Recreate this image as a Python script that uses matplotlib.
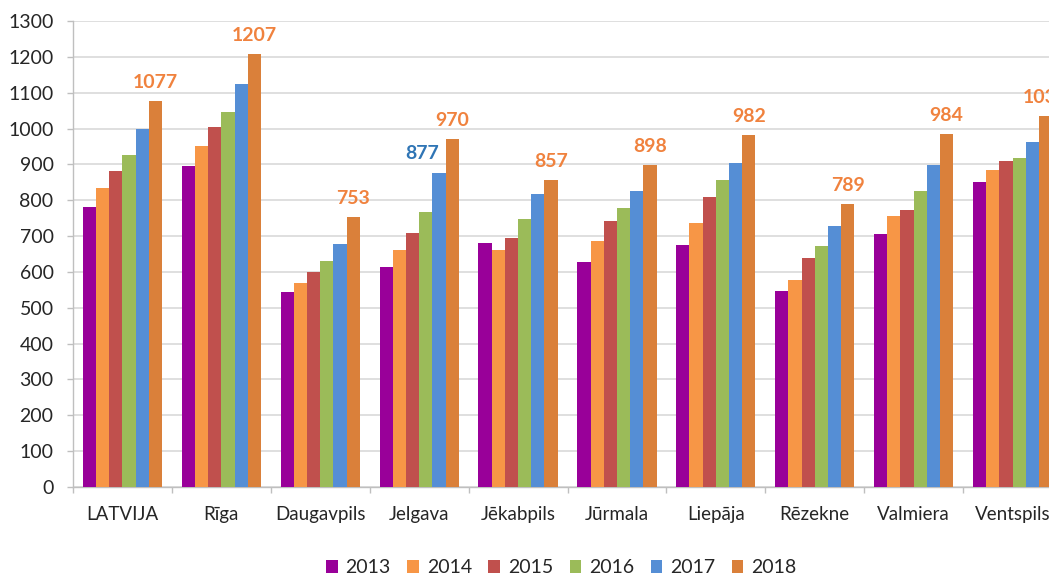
import matplotlib
matplotlib.use("Agg")
import matplotlib.pyplot as plt
from matplotlib.patches import Patch
import numpy as np

plt.rcParams['font.family'] = ['Lato', 'DejaVu Sans']

# dati
pilsetas = ['LATVIJA', 'Rīga', 'Daugavpils', 'Jelgava', 'Jēkabpils',
            'Jūrmala', 'Liepāja', 'Rēzekne', 'Valmiera', 'Ventspils']
gadi = ['2013', '2014', '2015', '2016', '2017', '2018']
v2013 = [782, 895, 543, 614, 680, 628, 675, 548, 705, 850]
v2014 = [833, 951, 570, 660, 660, 687, 736, 577, 755, 885]
v2015 = [882, 1003, 601, 708, 695, 741, 810, 639, 774, 910]
v2016 = [926, 1047, 631, 766, 747, 779, 856, 671, 826, 917]
v2017 = [999, 1123, 678, 877, 817, 826, 905, 727, 898, 962]
v2018 = [1077, 1207, 753, 970, 857, 898, 982, 789, 984, 1034]
serijas = [v2013, v2014, v2015, v2016, v2017, v2018]
krasas = ['#990099', '#F79646', '#C0504D', '#9BBB59', '#558ED5', '#DA803A']

fig = plt.figure(figsize=(10.49, 5.77), dpi=100)
ax = fig.add_axes([73 / 1049, 90 / 577, 989 / 1049, 466 / 577])

x = np.arange(len(pilsetas))
w = 0.8 / 6
for i, (vals, c) in enumerate(zip(serijas, krasas)):
    ax.bar(x + (i - 2.5) * w, vals, width=w, color=c, zorder=3)

# vērtību uzraksti
for xi, v in zip(x, v2018):
    ax.annotate(str(v), (xi + 2.5 * w, v), xytext=(0, 9.5), textcoords='offset points',
                ha='center', va='baseline', color='#F0823E', fontsize=14,
                fontweight='bold', annotation_clip=False)
ax.annotate(str(v2017[3]), (x[3] + 1.5 * w, v2017[3]), xytext=(-12, 9.5),
            textcoords='offset points', ha='center', va='baseline',
            color='#2F75B5', fontsize=14, fontweight='bold')

ax.set_xlim(-0.5, len(pilsetas) - 0.5)
ax.set_ylim(0, 1300)
ax.set_yticks(np.arange(0, 1301, 100))
ax.set_xticks(x)
ax.set_xticklabels(pilsetas, fontsize=13.5, color='#262626')
ax.set_xticks(np.arange(-0.5, len(pilsetas)), minor=True)
ax.tick_params(axis='x', which='major', length=0, pad=14)
ax.tick_params(axis='x', which='minor', length=4, color='#BFBFBF', width=1)
ax.tick_params(axis='y', length=4, color='#BFBFBF', width=1, pad=10,
               labelsize=14, labelcolor='#262626')
ax.grid(axis='y', color='#D9D9D9', linewidth=1.2, zorder=0)
for s in ['top', 'right']:
    ax.spines[s].set_visible(False)
for s in ['left', 'bottom']:
    ax.spines[s].set_color('#BFBFBF')
    ax.spines[s].set_linewidth(1)

handles = [Patch(facecolor=c, label=g) for c, g in zip(krasas, gadi)]
fig.legend(handles=handles, loc='center', bbox_to_anchor=(0.535, 0.016), ncol=6,
           frameon=False, fontsize=14, handlelength=0.6, handleheight=0.6,
           handletextpad=0.4, columnspacing=0.85, labelcolor='#262626')

fig.savefig('out.png', dpi=100)
